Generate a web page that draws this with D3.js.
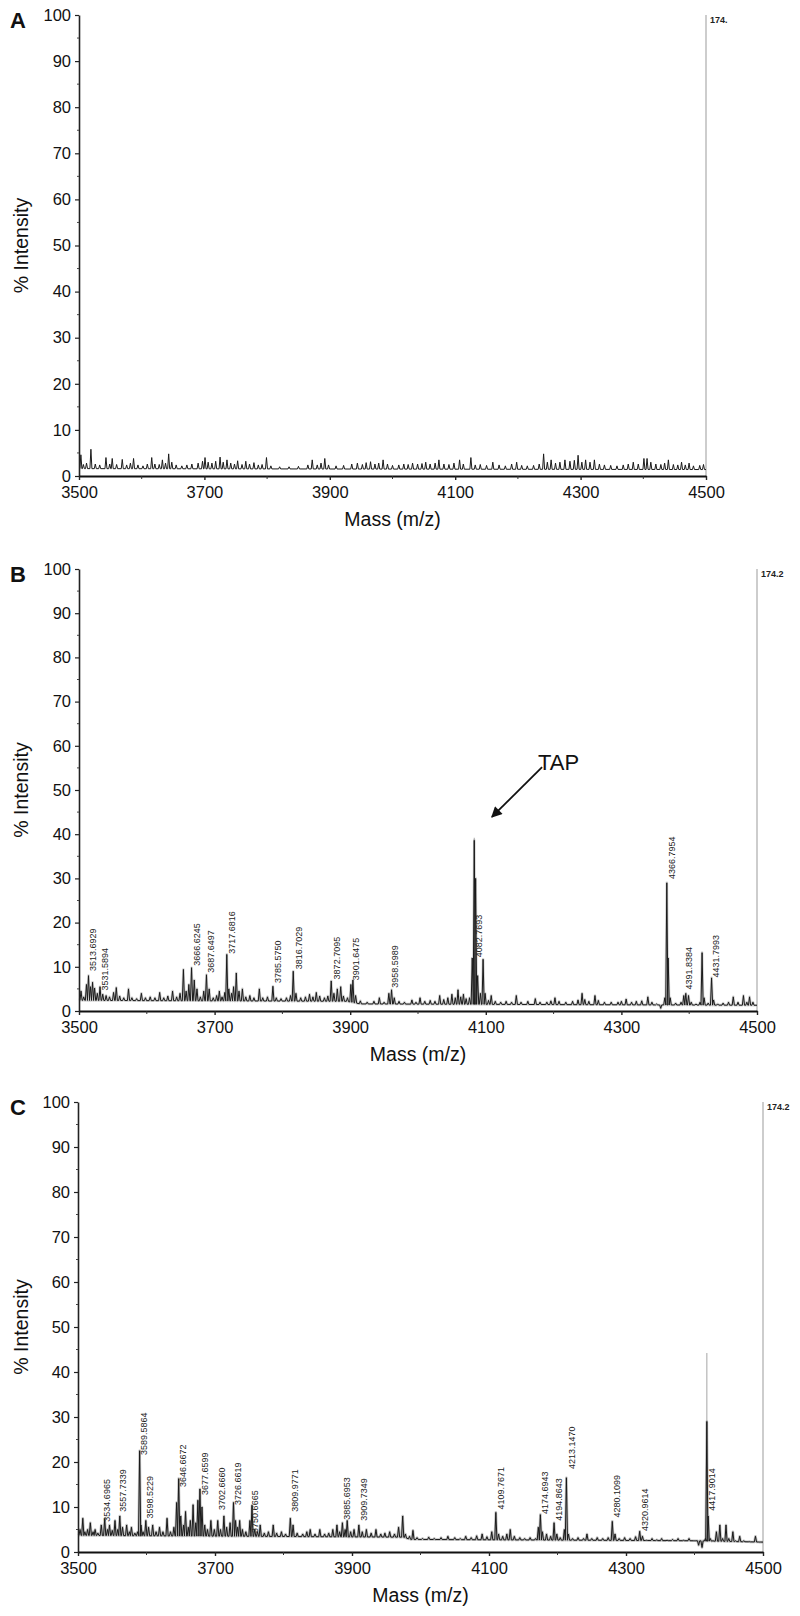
<!DOCTYPE html>
<html>
<head>
<meta charset="utf-8">
<script src="https://cdn.jsdelivr.net/npm/d3@7"></script>
<style>
  body { margin: 0; background: #fff; }
  svg { display: block; }
  text { font-family: "Liberation Sans", Arial, Helvetica, sans-serif; }
</style>
</head>
<body>
<svg id="chart" width="800" height="1616"></svg>
<script>
// axis values
const massDomain = [3500, 4500];
const intensityDomain = [0, 100];
const xTickValues = [3500, 3700, 3900, 4100, 4300, 4500];
const xMinorTicks = [3600, 3800, 4000, 4200, 4400];
const yTickValues = [0, 10, 20, 30, 40, 50, 60, 70, 80, 90, 100];
const yMinorTicks = [5, 15, 25, 35, 45, 55, 65, 75, 85, 95];
const panelLetters = ["A", "B", "C"];
const fullScaleLabels = ["174.", "174.2", "174.2"];

// baselines [mass, %]
const baselineA = [[3500, 1.6], [4500, 1.4]];
const baselineB = [[3500, 2.4], [3895, 2.2], [3915, 1.6], [4500, 1.3]];
const baselineC = [[3500, 3.7], [3975, 3.3], [3985, 2.8], [4400, 2.5], [4500, 2.2]];

// peaks [mass, % intensity]
const peaksA = [
  [3503, 4.6], [3507, 2.5], [3512, 2.8], [3519, 5.8], [3526, 2.6], [3533, 2.4], [3543, 4.0], [3549, 2.6],
  [3553, 3.8], [3560, 2.5], [3569, 3.6], [3576, 2.4], [3582, 2.8], [3587, 3.8], [3594, 2.4], [3602, 2.2],
  [3609, 2.6], [3616, 4.0], [3621, 2.6], [3628, 2.5], [3633, 3.5], [3638, 2.8], [3643, 4.8], [3648, 3.0],
  [3655, 2.4], [3664, 2.2], [3672, 2.4], [3680, 2.6], [3690, 2.8], [3697, 3.2], [3701, 4.0], [3706, 3.0],
  [3712, 2.8], [3718, 3.2], [3725, 4.1], [3730, 3.0], [3736, 3.5], [3742, 2.8], [3748, 2.6], [3753, 3.3],
  [3760, 2.5], [3766, 3.2], [3772, 2.6], [3779, 2.9], [3786, 2.4], [3792, 2.5], [3799, 4.0], [3806, 2.2],
  [3820, 2.0], [3835, 2.0], [3850, 2.1], [3865, 2.4], [3872, 3.5], [3880, 2.4], [3886, 2.8], [3892, 3.8],
  [3898, 2.4], [3910, 2.2], [3922, 2.3], [3935, 2.6], [3944, 2.8], [3952, 2.5], [3958, 2.9], [3965, 3.1],
  [3972, 2.6], [3978, 2.8], [3985, 3.5], [3992, 2.6], [4000, 2.3], [4010, 2.4], [4018, 2.6], [4025, 2.5],
  [4032, 2.8], [4040, 2.6], [4047, 2.7], [4053, 3.0], [4060, 2.6], [4068, 2.8], [4074, 3.5], [4082, 2.6],
  [4090, 2.5], [4098, 2.8], [4107, 3.5], [4113, 2.6], [4125, 4.0], [4132, 2.4], [4140, 2.5], [4150, 2.3],
  [4160, 3.0], [4170, 2.4], [4180, 2.2], [4190, 2.6], [4198, 3.0], [4206, 2.3], [4215, 2.2], [4225, 2.3],
  [4234, 2.6], [4241, 4.8], [4247, 3.0], [4253, 3.5], [4260, 2.8], [4267, 3.0], [4275, 3.5], [4283, 3.2],
  [4290, 3.4], [4296, 4.5], [4302, 3.0], [4308, 3.5], [4315, 3.0], [4322, 3.5], [4330, 2.6], [4338, 2.4],
  [4348, 2.3], [4358, 2.2], [4368, 2.4], [4376, 2.6], [4384, 3.0], [4392, 2.6], [4401, 3.8], [4406, 3.8],
  [4412, 3.0], [4420, 2.6], [4428, 2.5], [4434, 2.8], [4440, 3.5], [4448, 2.5], [4455, 2.4], [4461, 3.0],
  [4467, 2.4], [4473, 2.8], [4480, 2.2], [4490, 2.3], [4496, 2.5]
];

const peaksB = [
  [3503, 4.5], [3507, 3.2], [3511, 6.0], [3514, 8.0], [3517, 5.5], [3520, 6.5], [3523, 5.2], [3527, 4.0],
  [3531, 5.5], [3535, 3.8], [3540, 3.5], [3545, 3.2], [3551, 4.2], [3555, 5.3], [3560, 3.4], [3566, 3.0],
  [3573, 5.0], [3578, 3.0], [3585, 2.8], [3592, 4.0], [3598, 3.0], [3605, 3.2], [3612, 3.0], [3619, 4.2],
  [3625, 3.0], [3631, 3.4], [3638, 4.5], [3644, 3.2], [3649, 4.0], [3654, 9.4], [3658, 4.5], [3662, 6.0],
  [3666, 9.8], [3670, 7.0], [3674, 5.0], [3679, 3.2], [3684, 4.5], [3688, 8.2], [3692, 5.0], [3698, 3.0],
  [3703, 3.5], [3707, 4.5], [3711, 3.2], [3715, 4.2], [3718, 12.8], [3721, 5.0], [3725, 4.0], [3728, 5.5],
  [3732, 8.6], [3736, 4.5], [3741, 5.0], [3746, 3.2], [3752, 3.5], [3758, 3.0], [3766, 5.0], [3771, 3.0],
  [3778, 3.2], [3786, 5.6], [3791, 3.0], [3798, 2.8], [3806, 3.0], [3812, 3.5], [3816, 9.0], [3820, 4.0],
  [3827, 3.0], [3834, 3.2], [3840, 3.8], [3845, 3.2], [3850, 4.2], [3855, 3.4], [3862, 3.0], [3867, 3.4],
  [3872, 6.8], [3876, 4.0], [3881, 5.0], [3886, 5.5], [3890, 3.4], [3896, 3.0], [3901, 6.0], [3904, 7.0],
  [3908, 3.5], [3915, 2.3], [3925, 2.0], [3935, 2.2], [3943, 3.0], [3950, 2.0], [3957, 4.0], [3961, 4.8],
  [3965, 3.0], [3972, 2.2], [3980, 2.0], [3991, 2.5], [3997, 2.0], [4003, 3.0], [4010, 2.2], [4018, 2.4],
  [4025, 2.2], [4032, 3.5], [4038, 2.6], [4044, 3.0], [4050, 3.8], [4055, 3.0], [4059, 4.8], [4063, 3.2],
  [4067, 3.8], [4071, 2.8], [4076, 3.0], [4080, 12.0], [4083, 38.6], [4085, 30.0], [4088, 8.0], [4092, 4.0],
  [4096, 11.7], [4099, 4.0], [4104, 2.4], [4108, 3.5], [4114, 2.2], [4122, 2.0], [4130, 2.2], [4138, 2.0],
  [4145, 3.5], [4152, 2.0], [4162, 2.2], [4173, 2.8], [4180, 2.0], [4190, 2.0], [4196, 2.3], [4202, 3.0],
  [4208, 2.2], [4218, 2.0], [4228, 2.2], [4236, 2.5], [4242, 4.0], [4246, 2.6], [4252, 2.2], [4261, 3.5],
  [4266, 2.4], [4275, 2.0], [4285, 2.0], [4295, 2.0], [4300, 2.2], [4307, 2.7], [4315, 2.0], [4322, 2.2],
  [4330, 2.3], [4339, 3.2], [4345, 2.0], [4352, 1.6], [4358, 0.6], [4364, 3.0], [4367, 29.0], [4369, 12.0],
  [4372, 3.0], [4380, 1.8], [4388, 2.0], [4392, 3.5], [4395, 4.0], [4399, 3.5], [4403, 2.0], [4410, 1.6],
  [4416, 2.0], [4419, 13.2], [4422, 3.0], [4428, 1.8], [4433, 7.5], [4436, 2.5], [4442, 1.6], [4450, 1.8],
  [4458, 2.0], [4465, 3.2], [4472, 2.0], [4480, 3.5], [4485, 2.0], [4489, 3.2], [4494, 2.0]
];

const peaksC = [
  [3503, 5.0], [3507, 7.5], [3510, 4.5], [3514, 5.0], [3518, 6.5], [3522, 4.5], [3525, 5.0], [3529, 4.2],
  [3534, 6.0], [3539, 7.4], [3543, 5.0], [3546, 6.0], [3550, 4.8], [3554, 7.0], [3558, 5.0], [3561, 8.0],
  [3565, 5.5], [3571, 6.0], [3575, 4.5], [3578, 5.5], [3583, 4.2], [3587, 4.5], [3590, 22.5], [3592, 6.0],
  [3595, 4.5], [3599, 7.0], [3603, 5.5], [3609, 6.0], [3614, 4.5], [3619, 5.5], [3624, 4.5], [3630, 7.5],
  [3635, 4.5], [3640, 5.5], [3644, 11.0], [3647, 16.3], [3650, 8.0], [3654, 6.0], [3657, 9.0], [3661, 5.5],
  [3664, 7.0], [3668, 10.5], [3672, 6.5], [3675, 11.5], [3678, 14.0], [3681, 10.0], [3685, 6.0], [3689, 5.0],
  [3694, 7.0], [3699, 5.0], [3704, 7.0], [3708, 5.0], [3713, 8.0], [3717, 5.5], [3722, 6.5], [3727, 11.0],
  [3730, 7.0], [3733, 5.5], [3736, 7.0], [3740, 5.0], [3745, 4.5], [3751, 7.0], [3754, 10.4], [3758, 5.0],
  [3762, 4.5], [3766, 6.0], [3772, 4.2], [3778, 4.5], [3785, 6.0], [3790, 4.2], [3797, 4.5], [3803, 4.0],
  [3810, 7.5], [3814, 6.0], [3820, 4.2], [3828, 4.0], [3834, 4.5], [3839, 5.0], [3846, 4.0], [3853, 5.0],
  [3860, 4.0], [3866, 4.2], [3872, 5.0], [3878, 6.0], [3882, 4.5], [3886, 6.5], [3890, 5.0], [3893, 7.0],
  [3898, 4.5], [3903, 5.0], [3910, 6.0], [3915, 4.5], [3921, 5.0], [3928, 4.2], [3935, 5.0], [3942, 4.0],
  [3948, 4.2], [3955, 4.5], [3962, 4.0], [3968, 5.5], [3974, 8.0], [3978, 4.0], [3984, 3.5], [3989, 4.8],
  [3995, 3.2], [4003, 3.0], [4012, 3.3], [4020, 3.0], [4030, 3.2], [4040, 3.5], [4050, 3.2], [4058, 3.0],
  [4066, 3.5], [4074, 3.2], [4082, 3.6], [4090, 4.0], [4097, 3.4], [4104, 4.5], [4110, 8.8], [4114, 4.0],
  [4120, 3.5], [4126, 4.0], [4131, 5.0], [4137, 3.5], [4145, 3.2], [4152, 3.0], [4160, 3.2], [4168, 3.0],
  [4172, 5.5], [4175, 8.3], [4178, 4.5], [4184, 4.0], [4190, 3.5], [4195, 6.5], [4199, 4.0], [4204, 3.2],
  [4210, 5.0], [4213, 16.5], [4216, 4.0], [4222, 3.0], [4230, 3.2], [4238, 3.0], [4243, 4.0], [4250, 3.0],
  [4258, 3.2], [4266, 3.0], [4274, 3.2], [4280, 6.8], [4284, 4.0], [4290, 3.0], [4298, 3.2], [4306, 3.0],
  [4314, 3.4], [4320, 4.6], [4324, 3.5], [4330, 2.6], [4338, 3.0], [4345, 2.7], [4352, 3.0], [4360, 2.6],
  [4368, 2.8], [4376, 3.0], [4384, 2.6], [4392, 3.0], [4400, 2.5], [4406, 1.5], [4411, 1.0], [4416, 3.0],
  [4418, 29.0], [4420, 8.0], [4423, 3.0], [4427, 2.5], [4432, 4.5], [4437, 6.0], [4441, 3.0], [4446, 6.0],
  [4450, 3.0], [4456, 4.5], [4460, 2.5], [4466, 3.5], [4472, 2.5], [4480, 2.3], [4489, 3.5], [4495, 2.2]
];

// faint gray tips above the dark trace
const faintA = [];
const faintB = [[4083, 39.2]];
const faintC = [[4418, 44.2]];

// peak annotations [m/z, % where the label starts]
const labelsA = [];
const labelsB = [
  [3513.6929, 8.6], [3531.5894, 4.2], [3666.6245, 9.8], [3687.6497, 8.2], [3717.6816, 12.5],
  [3785.5750, 5.9], [3816.7029, 9.0], [3872.7095, 6.7], [3901.6475, 6.5], [3958.5989, 4.8],
  [4082.7693, 11.7], [4366.7954, 29.4], [4391.8384, 4.4], [4431.7993, 7.1]
];
const labelsC = [
  [3534.6965, 6.3], [3557.7339, 8.5], [3589.5864, 21.1], [3598.5229, 7.0], [3646.6672, 14.0],
  [3677.6599, 12.2], [3702.6660, 8.9], [3726.6619, 10.0], [3750.6665, 3.8], [3809.9771, 8.5],
  [3885.6953, 6.7], [3909.7349, 6.5], [4109.7671, 9.0], [4174.6943, 8.0], [4194.8643, 6.5],
  [4213.1470, 18.0], [4280.1099, 7.2], [4320.9614, 4.2], [4417.9014, 8.7]
];

// TAP arrow in panel B: [mass, %]
const tapText = [4177, 54.5];
const tapArrow = [[4183, 55.2], [4109, 43.9]];

const panels = [
  { left: 79, right: 706, top: 15, bottom: 476, peaks: peaksA, base: baselineA, faint: faintA, labels: labelsA, fuzz: 0 },
  { left: 79, right: 757, top: 569, bottom: 1011, peaks: peaksB, base: baselineB, faint: faintB, labels: labelsB, fuzz: 0.4 },
  { left: 78, right: 763, top: 1102, bottom: 1552, peaks: peaksC, base: baselineC, faint: faintC, labels: labelsC, fuzz: 0.55 }
];

const svg = d3.select("#chart");
svg.append("defs").append("marker")
  .attr("id", "arrowhead")
  .attr("viewBox", "0 0 10 10")
  .attr("refX", 9).attr("refY", 5)
  .attr("markerWidth", 7).attr("markerHeight", 6)
  .attr("markerUnits", "strokeWidth")
  .attr("orient", "auto")
  .append("path").attr("d", "M0,0 L10,5 L0,10 Z").attr("fill", "#111");

const halfWidth = 1.6;

panels.forEach((p, i) => {
  const x = d3.scaleLinear().domain(massDomain).range([p.left, p.right]);
  const y = d3.scaleLinear().domain(intensityDomain).range([p.bottom, p.top]);
  const base = d3.scaleLinear().domain(p.base.map(d => d[0])).range(p.base.map(d => d[1])).clamp(true);
  const g = svg.append("g");

  // full-scale marker line at the right end
  g.append("line")
    .attr("x1", x(4500)).attr("x2", x(4500))
    .attr("y1", y(0)).attr("y2", y(100))
    .attr("stroke", "#bdbdbd").attr("stroke-width", 1.5);
  g.append("text")
    .attr("x", x(4500) + 4).attr("y", y(100) + 8)
    .attr("font-size", 9).attr("font-weight", "bold").attr("fill", "#222")
    .text(fullScaleLabels[i]);

  // spectrum trace
  const pts = [[massDomain[0], base(massDomain[0])]];
  p.peaks.forEach(d => {
    pts.push([d[0] - halfWidth, base(d[0] - halfWidth)]);
    pts.push([d[0], d[1]]);
    pts.push([d[0] + halfWidth, base(d[0] + halfWidth)]);
  });
  pts.push([massDomain[1], base(massDomain[1])]);
  const line = d3.line().x(d => x(d[0])).y(d => y(d[1]));

  p.faint.forEach(d => {
    g.append("line")
      .attr("x1", x(d[0])).attr("x2", x(d[0]))
      .attr("y1", y(base(d[0]))).attr("y2", y(d[1]))
      .attr("stroke", "#b5b5b5").attr("stroke-width", 1.2);
  });
  if (p.fuzz > 0) {
    g.append("path").attr("d", line(pts))
      .attr("fill", "none").attr("stroke", "#8a8a8a")
      .attr("stroke-width", 2.6).attr("stroke-opacity", p.fuzz)
      .attr("stroke-linejoin", "round");
  }
  g.append("path").attr("d", line(pts))
    .attr("fill", "none").attr("stroke", "#1a1a1a")
    .attr("stroke-width", 1).attr("stroke-linejoin", "round");

  // peak labels
  p.labels.forEach(d => {
    const tx = x(d[0]) + 8, ty = y(d[1]) - 2;
    g.append("text")
      .attr("transform", `translate(${tx},${ty}) rotate(-90)`)
      .attr("font-size", 9).attr("fill", "#222")
      .text(d[0].toFixed(4));
  });

  // axes
  const yAxis = d3.axisLeft(y).tickValues(yTickValues).tickSize(4).tickSizeOuter(0).tickPadding(4);
  const ya = g.append("g").attr("transform", `translate(${p.left},0)`).call(yAxis);
  ya.select(".domain").attr("stroke", "#222").attr("stroke-width", 1.6);
  ya.selectAll("text").attr("font-size", 16.5).attr("fill", "#111");
  ya.selectAll(".tick line").attr("stroke", "#222").attr("stroke-width", 1.2);
  g.selectAll(".yminor").data(yMinorTicks).join("line")
    .attr("x1", p.left - 2).attr("x2", p.left)
    .attr("y1", d => y(d)).attr("y2", d => y(d))
    .attr("stroke", "#444").attr("stroke-width", 1);

  const xAxis = d3.axisBottom(x).tickValues(xTickValues).tickSize(4).tickSizeOuter(0).tickPadding(6).tickFormat(d3.format("d"));
  const xa = g.append("g").attr("transform", `translate(0,${p.bottom})`).call(xAxis);
  xa.select(".domain").attr("stroke", "#111").attr("stroke-width", 2);
  xa.selectAll("text").attr("font-size", 16.5).attr("fill", "#111");
  xa.selectAll(".tick line").attr("stroke", "#222").attr("stroke-width", 1.4);
  g.selectAll(".xminor").data(xMinorTicks).join("line")
    .attr("x1", d => x(d)).attr("x2", d => x(d))
    .attr("y1", p.bottom).attr("y2", p.bottom + 3)
    .attr("stroke", "#333").attr("stroke-width", 1);

  // titles
  g.append("text")
    .attr("x", (p.left + p.right) / 2).attr("y", p.bottom + 50)
    .attr("text-anchor", "middle").attr("font-size", 19.5).attr("fill", "#111")
    .text("Mass (m/z)");
  g.append("text")
    .attr("transform", `translate(28,${(p.top + p.bottom) / 2}) rotate(-90)`)
    .attr("text-anchor", "middle").attr("font-size", 19.5).attr("fill", "#111")
    .text("% Intensity");
  g.append("text")
    .attr("x", 10).attr("y", p.top + 13)
    .attr("font-size", 22).attr("font-weight", "bold").attr("fill", "#111")
    .text(panelLetters[i]);

  if (i === 1) {
    g.append("text")
      .attr("x", x(tapText[0])).attr("y", y(tapText[1]))
      .attr("font-size", 22).attr("fill", "#111")
      .text("TAP");
    g.append("line")
      .attr("x1", x(tapArrow[0][0])).attr("y1", y(tapArrow[0][1]))
      .attr("x2", x(tapArrow[1][0])).attr("y2", y(tapArrow[1][1]))
      .attr("stroke", "#111").attr("stroke-width", 1.8)
      .attr("marker-end", "url(#arrowhead)");
  }
});
</script>
</body>
</html>
